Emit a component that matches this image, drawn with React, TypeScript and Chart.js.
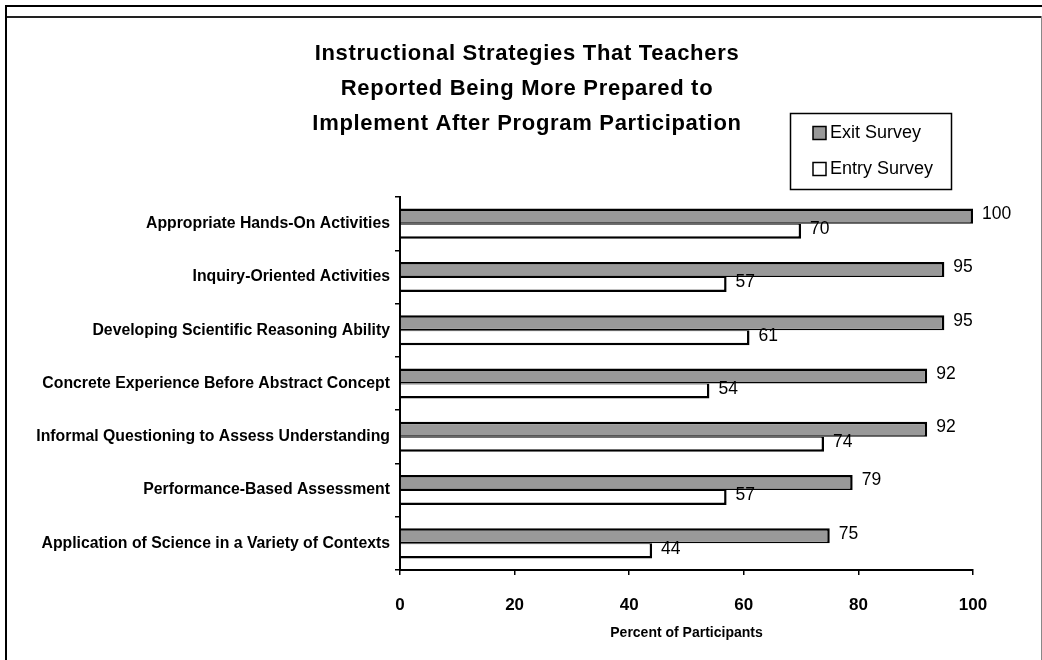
import React, { useEffect, useRef } from 'react';
import { Chart, registerables } from 'chart.js';

Chart.register(...registerables);

const categories = [
  'Appropriate Hands-On Activities',
  'Inquiry-Oriented Activities',
  'Developing Scientific Reasoning Ability',
  'Concrete Experience Before Abstract Concept',
  'Informal Questioning to Assess Understanding',
  'Performance-Based Assessment',
  'Application of Science in a Variety of Contexts',
];
const seriesNames = ['Exit Survey', 'Entry Survey'];
const exitSurvey = [100, 95, 95, 92, 92, 79, 75];
const entrySurvey = [70, 57, 61, 54, 74, 57, 44];
const xMin = 0;
const xMax = 100;
const xStep = 20;
const titleLines = [
  'Instructional Strategies That Teachers',
  'Reported Being More Prepared to',
  'Implement After Program Participation',
];
const xAxisTitle = 'Percent of Participants';

const FONT = "'Liberation Sans', Arial, Helvetica, sans-serif";
const GRAY = '#999999';

const framePlugin = {
  id: 'frame',
  beforeDraw(chart: any) {
    const ctx = chart.ctx;
    ctx.save();
    ctx.fillStyle = '#ffffff';
    ctx.fillRect(0, 0, chart.width, chart.height);
    ctx.fillStyle = '#000000';
    ctx.fillRect(5, 5, chart.width - 5, 2);
    ctx.fillStyle = '#222222';
    ctx.fillRect(5, 16, 1036, 2);
    ctx.fillStyle = '#000000';
    ctx.fillRect(5, 5, 2, chart.height - 5);
    ctx.fillStyle = '#888888';
    ctx.fillRect(1041, 16, 1, chart.height - 16);
    ctx.restore();
  },
};

const titlePlugin = {
  id: 'customTitle',
  afterDraw(chart: any) {
    const ctx = chart.ctx;
    ctx.save();
    ctx.fillStyle = '#000000';
    ctx.font = `bold 22px ${FONT}`;
    try { (ctx as any).letterSpacing = '0.7px'; } catch (e) {}
    ctx.textAlign = 'center';
    ctx.textBaseline = 'alphabetic';
    const baselines = [60, 95, 130];
    titleLines.forEach((line, i) => ctx.fillText(line, 527, baselines[i]));
    ctx.restore();
  },
};

const legendPlugin = {
  id: 'customLegend',
  afterDraw(chart: any) {
    const ctx = chart.ctx;
    ctx.save();
    ctx.fillStyle = '#ffffff';
    ctx.strokeStyle = '#000000';
    ctx.lineWidth = 1.5;
    ctx.fillRect(790.5, 113.5, 161, 76);
    ctx.strokeRect(790.5, 113.5, 161, 76);
    const centers = [133, 169];
    chart.data.datasets.forEach((ds: any, i: number) => {
      const cy = centers[i];
      ctx.fillStyle = ds.backgroundColor;
      ctx.fillRect(813, cy - 6.5, 13, 13);
      ctx.lineWidth = 1.5;
      ctx.strokeStyle = '#000000';
      ctx.strokeRect(813, cy - 6.5, 13, 13);
      ctx.fillStyle = '#000000';
      ctx.font = `18px ${FONT}`;
      ctx.textAlign = 'left';
      ctx.textBaseline = 'middle';
      ctx.fillText(ds.label, 830, cy);
    });
    ctx.restore();
  },
};

const valueLabelPlugin = {
  id: 'valueLabels',
  afterDatasetsDraw(chart: any) {
    const ctx = chart.ctx;
    ctx.save();
    ctx.fillStyle = '#000000';
    ctx.font = `17.5px ${FONT}`;
    ctx.textAlign = 'left';
    ctx.textBaseline = 'middle';
    chart.data.datasets.forEach((ds: any, di: number) => {
      const meta = chart.getDatasetMeta(di);
      meta.data.forEach((el: any, i: number) => {
        ctx.fillText(String(ds.data[i]), el.x + 9, el.y - 2);
      });
    });
    ctx.restore();
  },
};

export default function App() {
  const canvasRef = useRef<HTMLCanvasElement | null>(null);

  useEffect(() => {
    if (!canvasRef.current) return;
    const chart = new Chart(canvasRef.current, {
      type: 'bar',
      data: {
        labels: categories,
        datasets: [
          {
            label: seriesNames[0],
            data: exitSurvey,
            backgroundColor: GRAY,
            borderColor: '#000000',
            borderWidth: { top: 2.5, right: 2.5, bottom: 1.5, left: 0 },
            borderSkipped: false,
            categoryPercentage: 0.565,
            barPercentage: 1,
          },
          {
            label: seriesNames[1],
            data: entrySurvey,
            backgroundColor: '#ffffff',
            borderColor: '#000000',
            borderWidth: { top: 1, right: 2.5, bottom: 2.5, left: 0 },
            borderSkipped: false,
            categoryPercentage: 0.565,
            barPercentage: 1,
          },
        ],
      },
      options: {
        indexAxis: 'y',
        responsive: false,
        animation: false,
        layout: { padding: { left: 10, right: 69, top: 197, bottom: 8 } },
        plugins: {
          legend: { display: false },
          title: { display: false },
          tooltip: { enabled: false },
        },
        scales: {
          x: {
            min: xMin,
            max: xMax,
            ticks: {
              stepSize: xStep,
              color: '#000000',
              padding: 20,
              font: { family: FONT, size: 17, weight: 'bold' },
            },
            grid: {
              drawOnChartArea: false,
              drawTicks: true,
              tickLength: 5,
              color: '#000000',
              lineWidth: 1.5,
            },
            border: { display: true, color: '#000000', width: 2 },
            title: {
              display: true,
              text: xAxisTitle,
              color: '#000000',
              font: { family: FONT, size: 14, weight: 'bold' },
              padding: { top: 0, bottom: 10 },
            },
            afterFit: (s: any) => { s.height = 82; },
          },
          y: {
            ticks: {
              color: '#000000',
              padding: 5,
              font: { family: FONT, size: 15.8, weight: 'bold' },
            },
            grid: {
              drawOnChartArea: false,
              drawTicks: true,
              tickLength: 5,
              color: '#000000',
              lineWidth: 1.5,
              offset: true,
            },
            border: { display: true, color: '#000000', width: 2 },
            afterFit: (s: any) => { s.width = 390; },
          },
        },
      } as any,
      plugins: [framePlugin, titlePlugin, legendPlugin, valueLabelPlugin],
    });
    return () => chart.destroy();
  }, []);

  return (
    <div style={{ position: 'fixed', left: 0, top: 0, width: 1042, height: 660 }}>
      <canvas ref={canvasRef} width={1042} height={660} style={{ display: 'block' }} />
    </div>
  );
}
